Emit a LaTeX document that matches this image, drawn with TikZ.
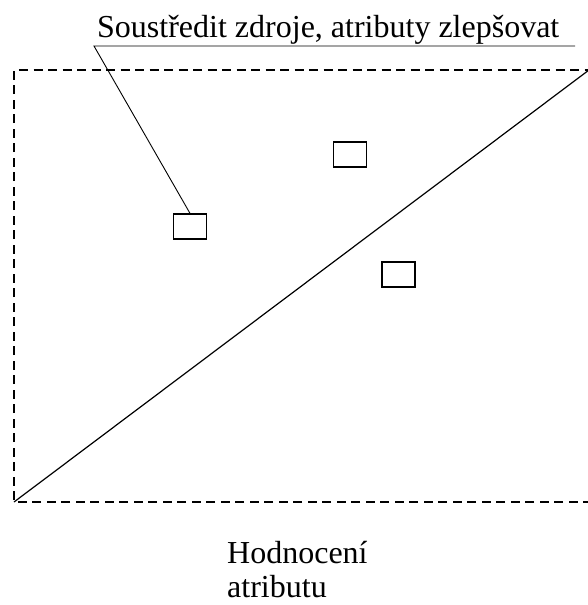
\documentclass[tikz,border=0pt]{standalone}
\usepackage{fontspec}
\setmainfont{Liberation Serif}
\begin{document}
\begin{tikzpicture}[x=1pt,y=-1pt,
  frame/.style={draw,dash pattern=on 9pt off 5.5pt,line width=1.2pt},
  itembox/.style={draw,line width=1.3pt,minimum width=33pt,minimum height=25pt,inner sep=0pt},
  lbl/.style={font=\fontsize{32}{34}\selectfont,inner sep=0pt},
  thin/.style={line width=0.9pt}]
\useasboundingbox (0,0) rectangle (588,605);
\coordinate (tl) at (14,70);
\coordinate (tr) at (592,70);
\coordinate (bl) at (14,502);
\coordinate (br) at (592,502);
\coordinate (dend) at (589,70);
\draw[frame] (br) -- (bl) -- (tl) -- (tr);
\draw[line width=1.2pt] (bl) -- (dend);
\node[itembox] (b1) at (190,226.5) {};
\node[itembox] (b2) at (350,154.5) {};
\node[itembox] (b3) at (398.5,274.5) {};
\node[lbl,anchor=base west] (t) at (97,37) {Soustředit zdroje, atributy zlepšovat};
\coordinate (ul) at (94,46);
\coordinate (ur) at (575,46);
\draw[thin] (ur) -- (ul) -- (b1.north);
\node[lbl,anchor=base west,align=left] (h) at (227,597) {Hodnocení\\atributu};
\end{tikzpicture}
\end{document}
